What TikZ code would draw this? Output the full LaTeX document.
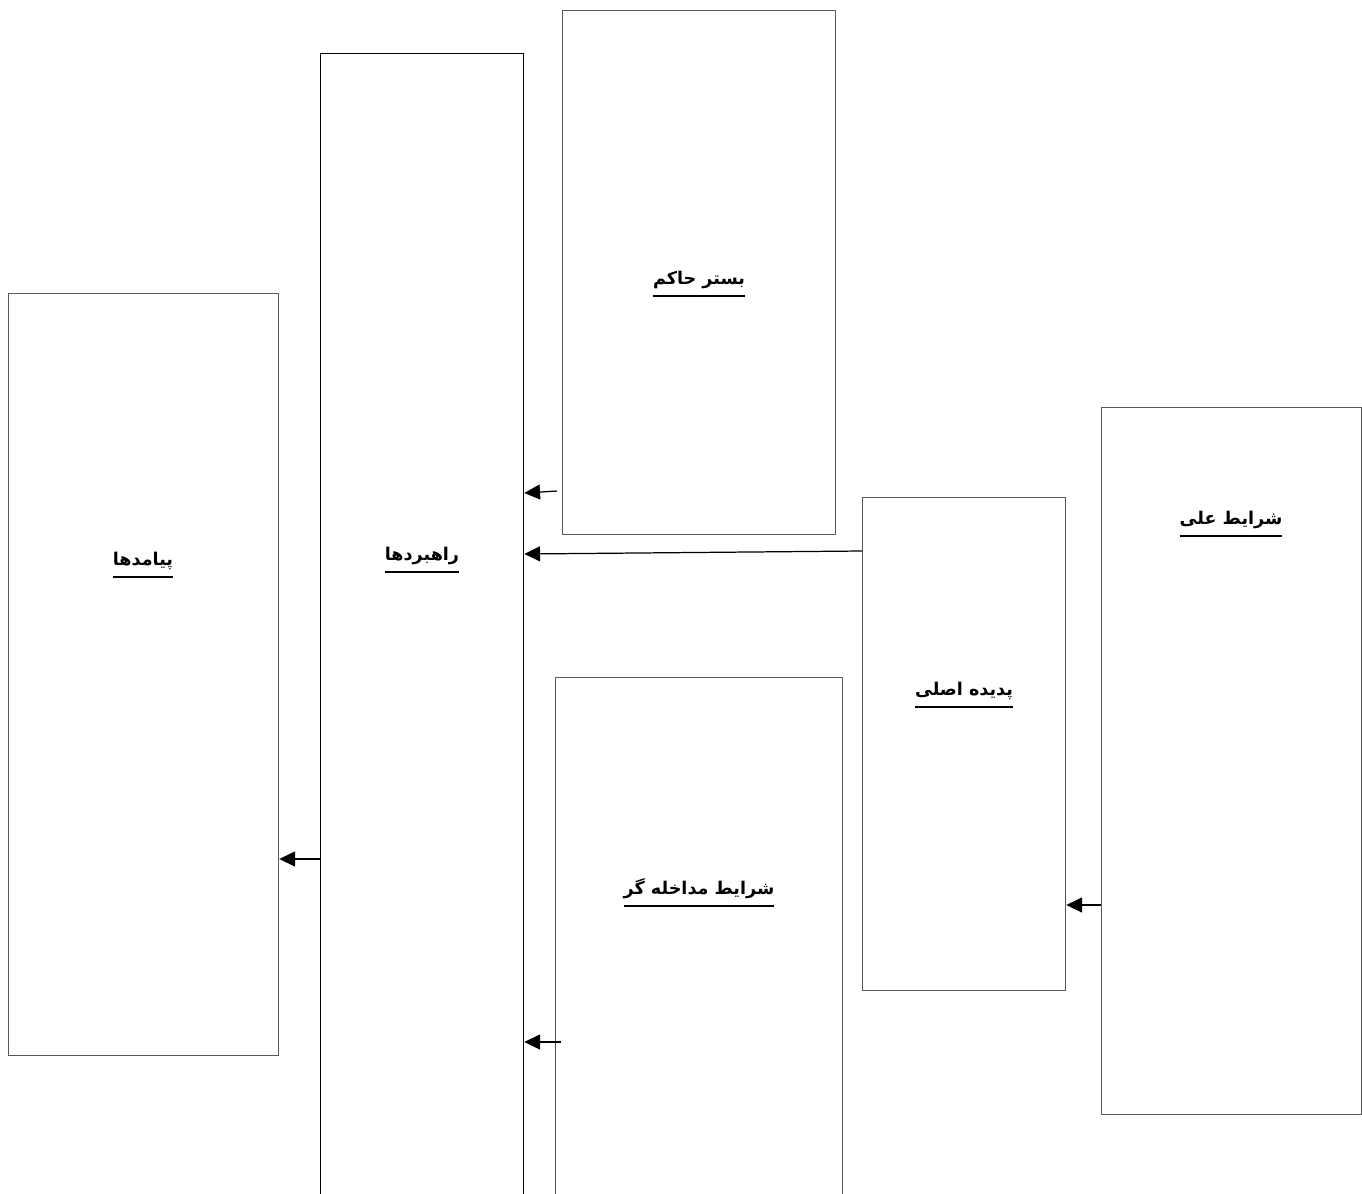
\documentclass[tikz,border=0pt]{standalone}
\usepackage{fontspec}
\newfontfamily\arabicfont[Script=Arabic]{DejaVu Sans}
\TeXXeTstate=1
\usetikzlibrary{arrows.meta}

\def\linewd{0.7pt}
\tikzstyle{panel} = [rectangle,
anchor=north west,
draw=black!65,
line width=\linewd,
inner sep=0pt]
\tikzstyle{title} = [font=\arabicfont\bfseries\fontsize{10}{12}\selectfont,
inner sep=1pt]
\tikzstyle{arr} = [draw=black,
line width=\linewd,
-{Triangle[length=9pt,width=8.5pt]}]

\newcommand{\rtltitle}[1]{\vtop{\hbox{\beginR #1\endR}\kern3.5pt\hrule height 1.3pt}}

\begin{document}
\begin{tikzpicture}
    \clip (0,0) rectangle (27.24,-23.86);
    %%%%%%%%%%%%%%%%%%%%%%%%%%%%%%%%%%%%%%%%
    % Panels
    %%%%%%%%%%%%%%%%%%%%%%%%%%%%%%%%%%%%%%%%
    \node (pm) [panel, minimum width=5.40cm, minimum height=15.24cm] at (0.16,-5.86) {};
    \node (rb) [panel, draw=black, minimum width=4.06cm, minimum height=23.40cm] at (6.40,-1.06) {};
    \node (bs) [panel, minimum width=5.46cm, minimum height=10.48cm] at (11.24,-0.20) {};
    \node (md) [panel, minimum width=5.74cm, minimum height=10.80cm] at (11.10,-13.54) {};
    \node (pd) [panel, minimum width=4.06cm, minimum height=9.86cm] at (17.24,-9.94) {};
    \node (al) [panel, minimum width=5.20cm, minimum height=14.14cm] at (22.02,-8.14) {};
    %%%%%%%%%%%%%%%%%%%%%%%%%%%%%%%%%%%%%%%%
    % Titles
    %%%%%%%%%%%%%%%%%%%%%%%%%%%%%%%%%%%%%%%%
    \node (pmT) [title] at (2.86,-11.30) {\rtltitle{پیامدها}};
    \node (rbT) [title] at (8.44,-11.20) {\rtltitle{راهبردها}};
    \node (bsT) [title] at (13.98,-5.68) {\rtltitle{بستر حاکم}};
    \node (mdT) [title] at (13.98,-17.86) {\rtltitle{شرایط مداخله گر}};
    \node (pdT) [title] at (19.28,-13.90) {\rtltitle{پدیده اصلی}};
    \node (alT) [title] at (24.62,-10.48) {\rtltitle{شرایط علی}};
    %%%%%%%%%%%%%%%%%%%%%%%%%%%%%%%%%%%%%%%%
    % Links
    %%%%%%%%%%%%%%%%%%%%%%%%%%%%%%%%%%%%%%%%
    \coordinate (bsOut) at (11.14,-9.82);
    \coordinate (mdOut) at (11.22,-20.84);
    \draw[arr] (bsOut) -- (rb.east |- 0,-9.86);
    \draw[arr] (pd.west |- 0,-11.02) -- (rb.east |- 0,-11.08);
    \draw[arr] (mdOut) -- (rb.east |- mdOut);
    \draw[arr] (rb.west |- 0,-17.18) -- (pm.east |- 0,-17.18);
    \draw[arr] (al.west |- 0,-18.10) -- (pd.east |- 0,-18.10);
\end{tikzpicture}
\end{document}
